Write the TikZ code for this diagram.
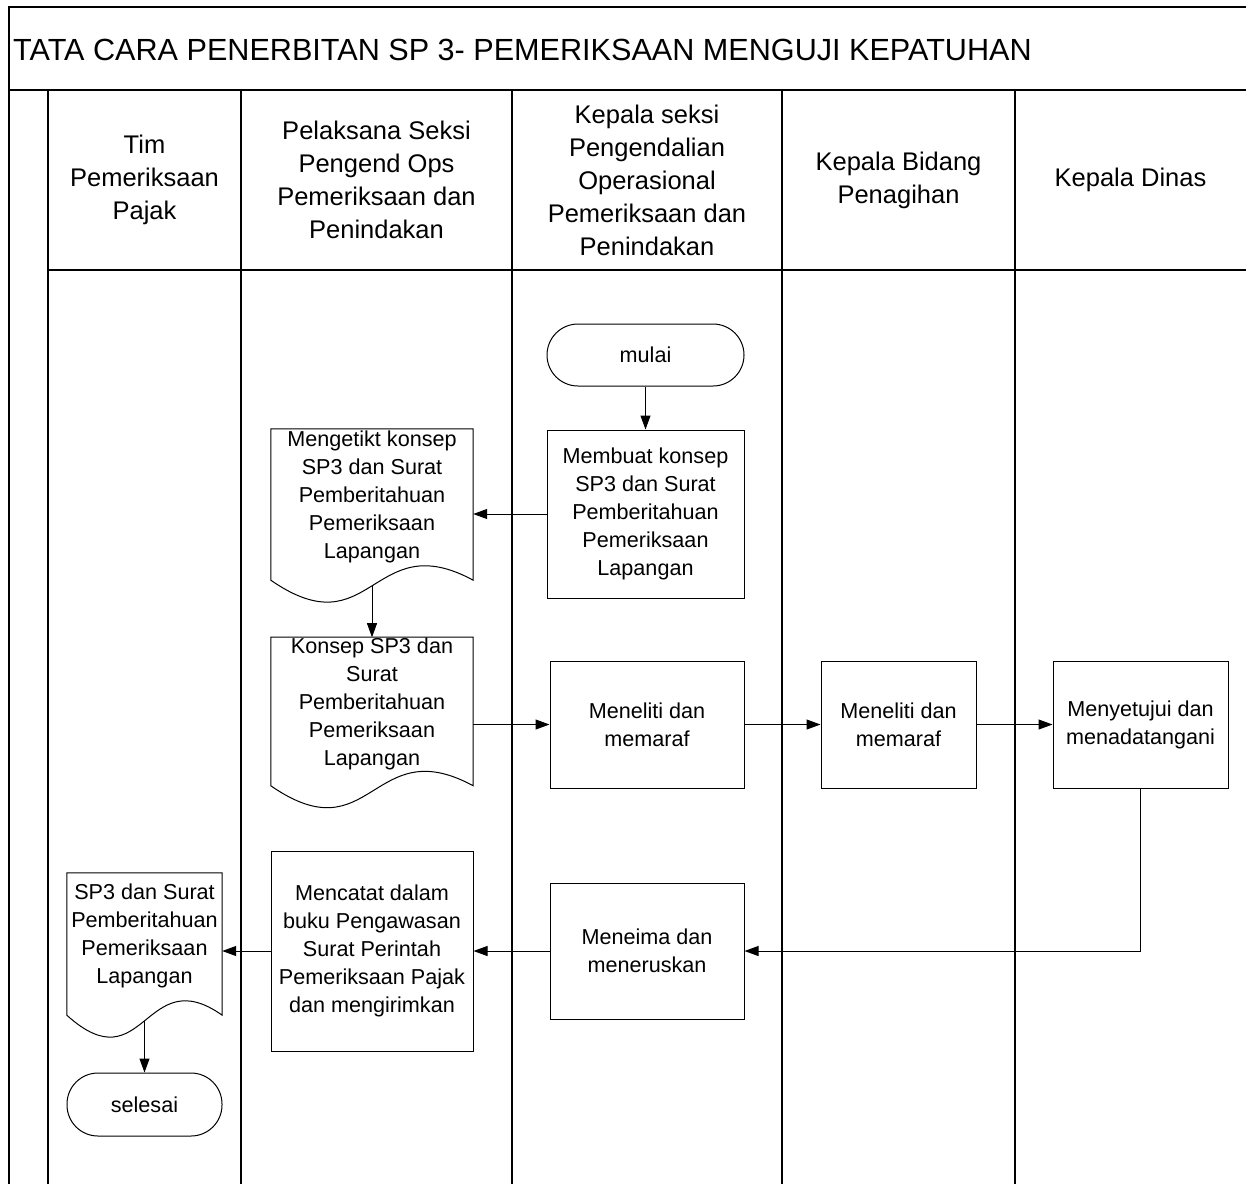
\documentclass[tikz,border=0pt]{standalone}
\usepackage{fontspec}
\setmainfont{Liberation Sans}
\usetikzlibrary{arrows.meta,calc}

% document symbol: flat top, wavy bottom below the node's south edge
\newcommand{\docframe}[1]{%
  \draw[shape line] (#1.north west) -- (#1.north east) -- ([yshift=-16pt]#1.south east)
    .. controls ([yshift=39pt]#1.south) and ([yshift=-86pt]#1.south) ..
    ([yshift=-16pt]#1.south west) -- cycle;
  \coordinate (#1 foot) at ([yshift=-21.6pt]#1.south);
}

\begin{document}
\begin{tikzpicture}[x=1pt,y=-1pt,
  frame/.style={line width=1.2pt},
  shape line/.style={line width=1pt},
  txt/.style={font=\fontsize{21.6}{28}\selectfont, align=center, inner sep=0pt},
  head/.style={font=\fontsize{25.5}{33}\selectfont, align=center, inner sep=0pt},
  procbox/.style={txt, draw, shape line, minimum width=#1, minimum height=127pt},
  docnode/.style={txt, minimum width=#1},
  term/.style={txt, draw, shape line, rounded corners=31pt, minimum height=62pt, minimum width=#1},
  flow/.style={line width=1pt, -{Triangle[length=14pt,width=10pt]}}
]
\useasboundingbox (0,0) rectangle (1246,1184);

% swimlane frame
\draw[frame] (9,1184) -- (9,7) -- (1246,7);
\draw[frame] (9,90) -- (1246,90);
\draw[frame] (48,270) -- (1246,270);
\foreach \x in {48,241,512,782,1015} \draw[frame] (\x,90) -- (\x,1184);

% title
\node[anchor=base west, inner sep=0pt, font=\fontsize{30.6}{36}\selectfont] (title) at (13,60)
  {TATA CARA PENERBITAN SP 3- PEMERIKSAAN MENGUJI KEPATUHAN};

% lane headers
\node[head] (h1) at (144.5,180) {Tim\\Pemeriksaan\\Pajak};
\node[head] (h2) at (376.5,180) {Pelaksana Seksi\\Pengend Ops\\Pemeriksaan dan\\Penindakan};
\node[head] (h3) at (647,180) {Kepala seksi\\Pengendalian\\Operasional\\Pemeriksaan dan\\Penindakan};
\node[head] (h4) at (898.5,180) {Kepala Bidang\\Penagihan};
\node[head] (h5) at (1130.5,180) {Kepala Dinas};

% process steps
\node[term=197pt] (mulai) at (645.5,355) {mulai};
\node[procbox=197pt, minimum height=168pt] (membuat) at (645.5,514)
  {Membuat konsep\\SP3 dan Surat\\Pemberitahuan\\Pemeriksaan\\Lapangan};

\node[docnode=202pt, minimum height=135pt] (ketik) at (372,496.5)
  {Mengetikt konsep\\SP3 dan Surat\\Pemberitahuan\\Pemeriksaan\\Lapangan};
\docframe{ketik}
\node[docnode=202pt, minimum height=127pt] (konsep) at (372,703.5)
  {Konsep SP3 dan\\Surat\\Pemberitahuan\\Pemeriksaan\\Lapangan};
\docframe{konsep}

\node[procbox=194pt] (teliti1) at (647,724.5) {Meneliti dan\\memaraf};
\node[procbox=155pt] (teliti2) at (898.5,724.5) {Meneliti dan\\memaraf};
\node[procbox=175pt] (setuju) at (1140.5,724.5) {Menyetujui dan\\menadatangani};

\node[procbox=194pt, minimum height=136pt] (terima) at (647,951) {Meneima dan\\meneruskan};
\node[procbox=202pt, minimum height=200pt] (catat) at (372,951)
  {Mencatat dalam\\buku Pengawasan\\Surat Perintah\\Pemeriksaan Pajak\\dan mengirimkan};

\node[docnode=155pt, minimum height=126pt] (sp3) at (144.5,936)
  {SP3 dan Surat\\Pemberitahuan\\Pemeriksaan\\Lapangan};
\docframe{sp3}
\node[term=155pt, minimum height=63pt] (selesai) at (144.5,1104.5) {selesai};

% connectors
\draw[flow] (mulai) -- (membuat);
\draw[flow] (membuat.west) -- (membuat.west -| ketik.east);
\draw[flow] (ketik foot) -- (konsep.north);
\draw[flow] (konsep.east |- teliti1.west) -- (teliti1.west);
\draw[flow] (teliti1) -- (teliti2);
\draw[flow] (teliti2) -- (setuju);
\draw[flow] (setuju.south) |- (terima.east);
\draw[flow] (terima) -- (catat);
\draw[flow] (catat.west) -- (catat.west -| sp3.east);
\draw[flow] (sp3 foot) -- (selesai.north);
\end{tikzpicture}
\end{document}
